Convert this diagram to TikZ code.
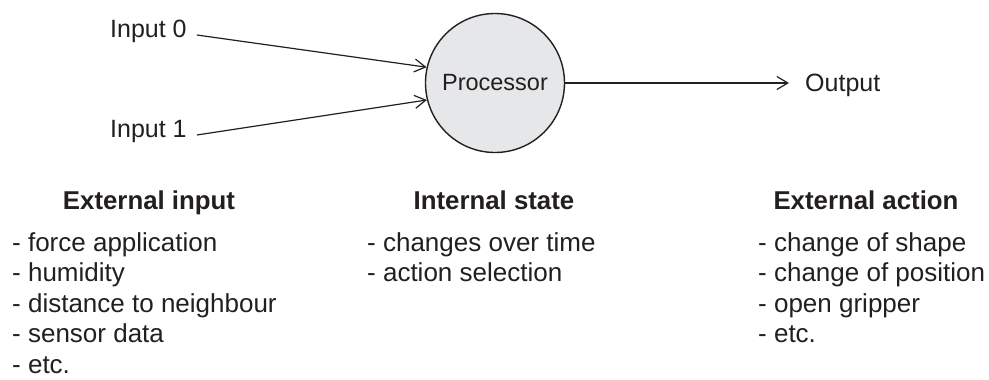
\documentclass[tikz,border=0pt]{standalone}
\usepackage{fontspec}
\setmainfont{Liberation Sans}
\usetikzlibrary{arrows.meta}
\definecolor{ink}{HTML}{231F20}
\definecolor{procfill}{HTML}{E6E7E8}
\begin{document}
\begin{tikzpicture}[x=1pt,y=-1pt,
  every node/.style={text=ink},
  lbl/.style={inner sep=0pt, anchor=base west, font=\fontsize{25}{30}\selectfont},
  item/.style={inner sep=0pt, anchor=base west, font=\fontsize{26}{31}\selectfont},
  head/.style={inner sep=0pt, anchor=base, font=\fontsize{25.8}{31}\selectfont\bfseries},
  link/.style={draw=ink, line width=1.2pt, -{Straight Barb[length=11pt,width=13pt,line width=1.2pt]}},
]
\useasboundingbox (0,0) rectangle (989,380);

% processor
\node[circle, draw=ink, line width=1.4pt, fill=procfill, minimum size=139pt, inner sep=0pt,
      font=\fontsize{23.5}{28}\selectfont] (proc) at (495,83) {Processor};

% inputs and output
\node[lbl] (in0) at (110,37) {Input 0};
\node[lbl] (in1) at (110,137) {Input 1};
\node[lbl] (out) at (805,91) {Output};
\coordinate (otip) at ([xshift=-16pt]out.west);

\draw[link] ([shift={(10,-2)}]in0.base east) -- (proc.167);
\draw[link] ([shift={(10,-2)}]in1.base east) -- (proc.194);
\draw[link] (proc.east) -- (proc.east -| otip);

% column headings
\node[head] (hin)  at (149,209) {External input};
\node[head] (hst)  at (494,209) {Internal state};
\node[head] (hact) at (866,209) {External action};

% lists
\foreach \t [count=\k] in {force application, humidity, distance to neighbour, sensor data, etc.}
  \node[item] (ei\k) at (12,{251+30.6*(\k-1)}) {- \t};
\foreach \t [count=\k] in {changes over time, action selection}
  \node[item] (is\k) at (367,{251+30.6*(\k-1)}) {- \t};
\foreach \t [count=\k] in {change of shape, change of position, open gripper, etc.}
  \node[item] (ea\k) at (758,{251+30.6*(\k-1)}) {- \t};
\end{tikzpicture}
\end{document}
